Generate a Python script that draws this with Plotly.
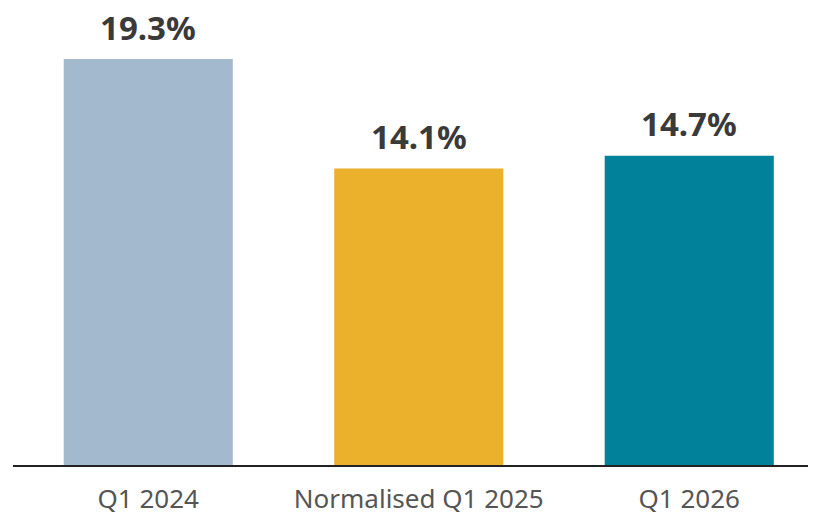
import plotly.graph_objects as go

categories = ["Q1 2024", "Normalised Q1 2025", "Q1 2026"]
values = [19.3, 14.1, 14.7]
value_labels = ["19.3%", "14.1%", "14.7%"]
colors = ["#A3B9CE", "#EBB02C", "#02829A"]

fig = go.Figure(go.Bar(x=categories, y=values, marker_color=colors, marker_line_width=0, hoverinfo="skip"))

for c, v, t in zip(categories, values, value_labels):
    fig.add_annotation(x=c, y=v, text=t, showarrow=False, yanchor="middle", yshift=32,
                       font=dict(family="Noto Sans", size=33, color="#3a3a3a", weight="bold"))

# page body has an 8px margin; figure sized to fill the rest of the 816x516 window
fig.update_layout(
    width=808, height=508,
    margin=dict(l=5, r=0, t=0, b=51, autoexpand=False),
    paper_bgcolor="white", plot_bgcolor="white",
    bargap=0.375, showlegend=False,
    font=dict(family="Noto Sans"),
)
fig.update_xaxes(range=[-0.5, 2.4686], showline=True, linecolor="#222222", linewidth=2,
                 showgrid=False, ticks="", ticklabelstandoff=10, automargin=False,
                 tickfont=dict(family="Noto Sans", size=26, color="#555555"))
fig.update_yaxes(range=[0, 21.725], visible=False, showgrid=False, zeroline=False, automargin=False)

fig.write_html("out.html")
